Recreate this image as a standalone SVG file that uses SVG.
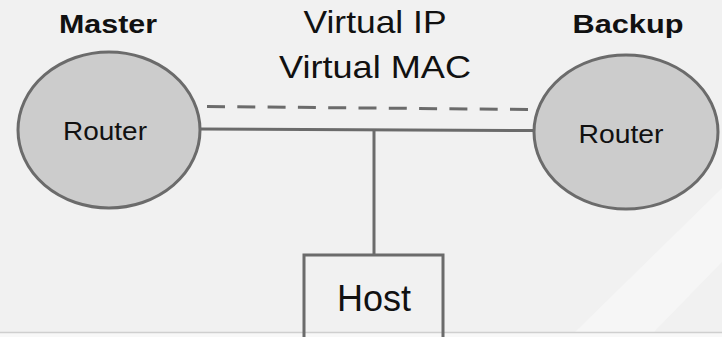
<svg xmlns="http://www.w3.org/2000/svg" width="722" height="337" viewBox="0 0 722 337">
<style>
.router{fill:#cccccc;stroke:#6b6b6b;stroke-width:3}
.line{stroke:#6b6b6b;stroke-width:3;fill:none}
.t{font-family:"Liberation Sans",Arial,sans-serif;fill:#111;text-anchor:middle}
.b{font-weight:bold}
</style>
<rect width="722" height="337" fill="#f1f1f1"/>
<polygon points="574,333 722,188 722,262 653,333" fill="#f6f6f6"/>
<rect x="0" y="333" width="722" height="4" fill="#f8f8f8"/>
<line x1="0" y1="332.5" x2="722" y2="332.5" stroke="#cfcfcf" stroke-width="1.5"/>
<g id="connectors">
<line class="line" x1="207" y1="106.5" x2="528" y2="109.5" stroke-width="4" stroke-dasharray="18,12.3"/>
<line class="line" x1="200" y1="129" x2="534" y2="130.5"/>
<line class="line" x1="374" y1="129" x2="374" y2="255"/>
</g>
<g id="labels">
<text class="t b" x="108" y="33" font-size="26" textLength="98" lengthAdjust="spacingAndGlyphs">Master</text>
<text class="t b" x="628" y="33" font-size="26" textLength="111" lengthAdjust="spacingAndGlyphs">Backup</text>
<text class="t" x="375" y="33" font-size="32" textLength="143" lengthAdjust="spacingAndGlyphs">Virtual IP</text>
<text class="t" x="375" y="78" font-size="32" textLength="192" lengthAdjust="spacingAndGlyphs">Virtual MAC</text>
</g>
<g id="master">
<ellipse class="router" cx="109" cy="130" rx="91" ry="78"/>
<text class="t" x="105" y="140" font-size="25" textLength="84" lengthAdjust="spacingAndGlyphs">Router</text>
</g>
<g id="backup">
<ellipse class="router" cx="626" cy="132" rx="92" ry="77"/>
<text class="t" x="621" y="143" font-size="25" textLength="85" lengthAdjust="spacingAndGlyphs">Router</text>
</g>
<g id="host">
<rect x="304" y="255" width="139" height="90" fill="none" stroke="#6b6b6b" stroke-width="3"/>
<text class="t" x="374" y="311" font-size="36" textLength="74" lengthAdjust="spacingAndGlyphs">Host</text>
</g>
</svg>
